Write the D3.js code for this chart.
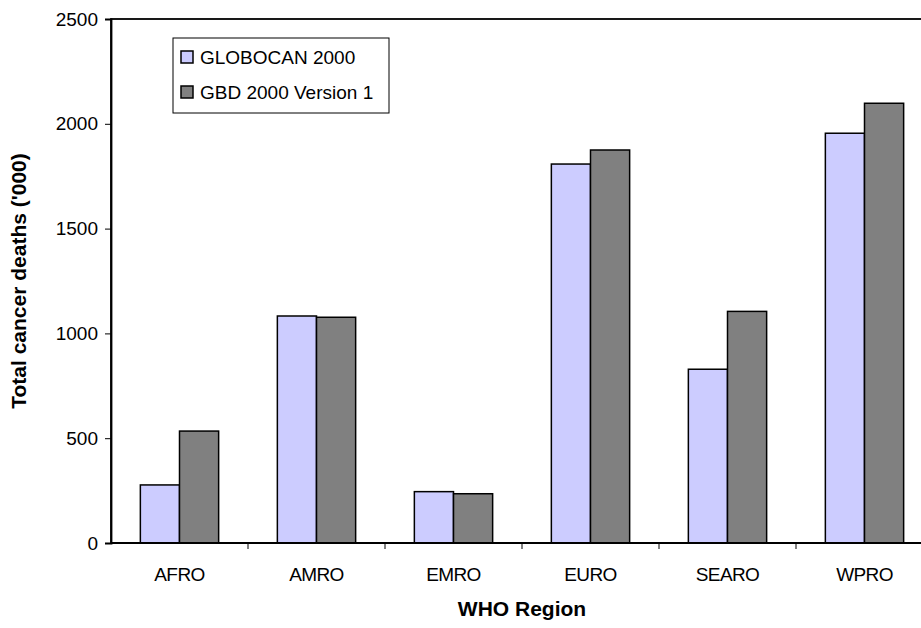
<!DOCTYPE html>
<html>
<head>
<meta charset="utf-8">
<script src="https://cdn.jsdelivr.net/npm/d3@7"></script>
<style>
  body { margin: 0; background: #fff; }
  svg { display: block; font-family: "Liberation Sans", Arial, sans-serif; }
</style>
</head>
<body>
<svg id="chart" width="921" height="628"></svg>
<script>
const categories = ["AFRO", "AMRO", "EMRO", "EURO", "SEARO", "WPRO"];
const seriesNames = ["GLOBOCAN 2000", "GBD 2000 Version 1"];
const globocan = [277, 1083, 245, 1808, 829, 1955];
const gbd = [534, 1077, 235, 1875, 1105, 2098];
const yTicks = [0, 500, 1000, 1500, 2000, 2500];
const colors = ["#ccccff", "#808080"];

(function () {
const svg = d3.select("#chart");
const pLeft = 111, pTop = 19, pBottom = 543, pRight = 933;
const FS = 19, TFS = 21;

const x = d3.scaleBand().domain(categories).range([pLeft, pRight]).paddingInner(0).paddingOuter(0);
const xs = d3.scaleBand().domain(seriesNames).range([0, x.bandwidth()]).paddingOuter(0.75).paddingInner(0);
const y = d3.scaleLinear().domain([0, 2500]).range([pBottom, pTop]);

const data = categories.map((c, i) => ({cat: c, vals: [globocan[i], gbd[i]]}));

// bars
const g = svg.append("g");
data.forEach(d => {
  d.vals.forEach((v, j) => {
    g.append("rect")
      .attr("x", x(d.cat) + xs(seriesNames[j]))
      .attr("y", y(v))
      .attr("width", xs.bandwidth())
      .attr("height", y(0) - y(v))
      .attr("fill", colors[j])
      .attr("stroke", "#000")
      .attr("stroke-width", 1.5);
  });
});

// plot border
svg.append("rect")
  .attr("x", pLeft).attr("y", pTop)
  .attr("width", pRight - pLeft).attr("height", pBottom - pTop)
  .attr("fill", "none").attr("stroke", "#000").attr("stroke-width", 1.8);

// y axis
const yAxis = svg.append("g").attr("transform", `translate(${pLeft},0)`)
  .call(d3.axisLeft(y).tickValues(yTicks).tickSize(6).tickPadding(7).tickFormat(d3.format("d")));
yAxis.select(".domain").attr("stroke-width", 1.8);
yAxis.selectAll("line").attr("stroke-width", 1);
yAxis.selectAll("text").attr("font-size", FS).attr("fill", "#000").attr("font-family", "Liberation Sans, Arial, sans-serif");

// x axis with ticks at category boundaries
const xAxis = svg.append("g").attr("transform", `translate(0,${pBottom})`);
xAxis.append("line").attr("x1", pLeft).attr("x2", pRight).attr("y1", 0).attr("y2", 0)
  .attr("stroke", "#000").attr("stroke-width", 1.8);
categories.forEach((c, i) => {
  xAxis.append("line")
    .attr("x1", x(c) + x.bandwidth()).attr("x2", x(c) + x.bandwidth())
    .attr("y1", 0).attr("y2", 6).attr("stroke", "#000");
  xAxis.append("text")
    .attr("x", x(c) + x.bandwidth() / 2).attr("y", 38)
    .attr("text-anchor", "middle").attr("font-size", FS).attr("fill", "#000")
    .attr("letter-spacing", -0.6)
    .text(c);
});

// axis titles
svg.append("text")
  .attr("transform", `translate(26,${(pTop + pBottom) / 2}) rotate(-90)`)
  .attr("text-anchor", "middle").attr("font-size", TFS).attr("font-weight", "bold")
  .text("Total cancer deaths ('000)");
svg.append("text")
  .attr("x", (pLeft + pRight) / 2).attr("y", 616)
  .attr("text-anchor", "middle").attr("font-size", TFS).attr("font-weight", "bold")
  .text("WHO Region");

// legend
const lg = svg.append("g");
lg.append("rect").attr("x", 173).attr("y", 38).attr("width", 216).attr("height", 75)
  .attr("fill", "#fff").attr("stroke", "#000").attr("stroke-width", 1);
seriesNames.forEach((s, j) => {
  const cy = 57 + j * 35;
  lg.append("rect").attr("x", 181).attr("y", cy - 6).attr("width", 12).attr("height", 12)
    .attr("fill", colors[j]).attr("stroke", "#000").attr("stroke-width", 1.5);
  lg.append("text").attr("x", 200).attr("y", cy + 7)
    .attr("font-size", FS).attr("fill", "#000").text(s);
});
})();
</script>
</body>
</html>
